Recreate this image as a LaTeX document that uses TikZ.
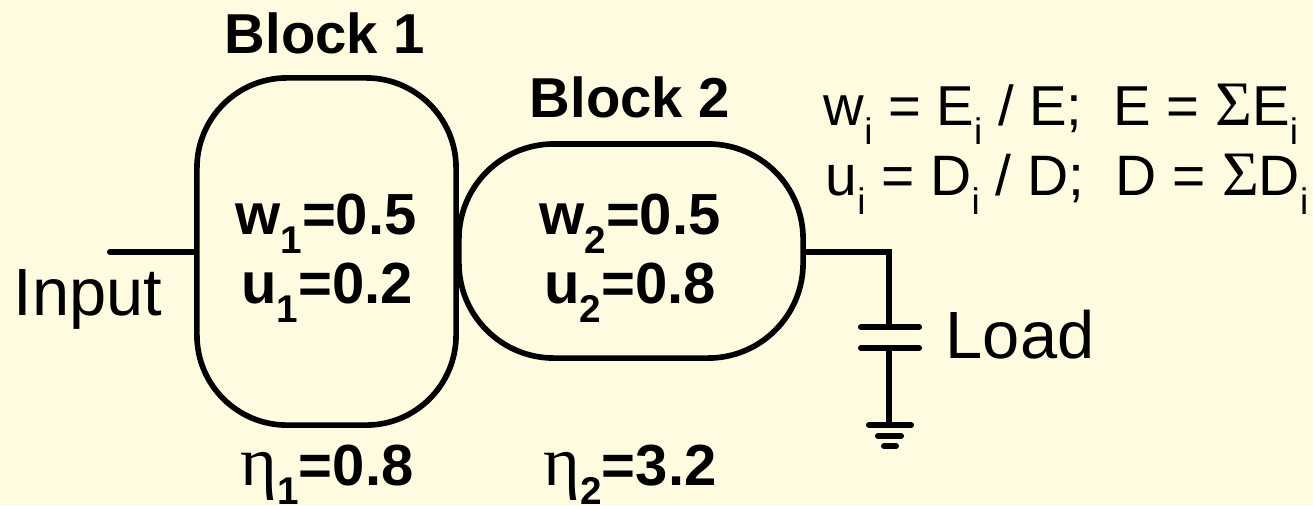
\documentclass[tikz,border=0pt]{standalone}
\usepackage{fontspec}
\setmainfont{Liberation Sans}
\newfontfamily\symfont{Liberation Serif}
\usepackage{tikz}
\usetikzlibrary{positioning}
\definecolor{paper}{HTML}{FEFBE0}
\newcommand{\lowidx}[1]{\raisebox{-5.4pt}{\fontsize{11}{12}\selectfont #1}}
\newcommand{\lowthin}[1]{\raisebox{-5.6pt}{\fontsize{10.5}{12}\selectfont #1}}
\newcommand{\etasym}{{\fontsize{20}{20}\selectfont\symfont\mdseries η}}
\newcommand{\sumsym}{{\fontsize{18}{20}\selectfont\symfont Σ}}

\begin{document}
\begin{tikzpicture}[
  x=0.01cm,y=-0.01cm,
  blk/.style={draw,line width=1.6pt,rounded corners=0.9cm,inner sep=0pt},
  wire/.style={line width=1.7pt,line cap=round},
  head/.style={anchor=base,inner sep=0pt,font=\fontsize{16}{20}\selectfont\bfseries},
  val/.style={anchor=base,inner sep=0pt,font=\fontsize{16.5}{20}\selectfont\bfseries},
  lbl/.style={anchor=base,inner sep=0pt,font=\fontsize{19}{22}\selectfont},
  eqn/.style={anchor=base west,inner sep=0pt,font=\fontsize{16}{20}\selectfont}
]
\fill[paper] (0,0) rectangle (1313,505);
\useasboundingbox (0,0) rectangle (1313,505);

% blocks
\node[blk,minimum width=2.59cm,minimum height=3.47cm] (block1) at (326.5,251.5) {};
\node[blk,minimum width=3.44cm,minimum height=2.14cm,rounded corners=0.95cm] (block2) at (631,251) {};
\node[head] (title1) at (325,53) {Block 1};
\node[head] (title2) at (630,117) {Block 2};

% values
\node[val] (w1) at (326,234) {w\lowidx{1}=0.5};
\node[val] (u1) at (327,303) {u\lowidx{1}=0.2};
\node[val] (w2) at (630,234) {w\lowidx{2}=0.5};
\node[val] (u2) at (630,303) {u\lowidx{2}=0.8};
\node[val] (eta1) at (327,485) {\etasym\lowidx{1}=0.8};
\node[val] (eta2) at (630,485) {\etasym\lowidx{2}=3.2};

% labels
\node[lbl] (input) at (88,315) {Input};
\node[lbl] (load) at (1020,358) {Load};
\node[eqn] (eqw) at (823,125) {w\lowthin{i} = E\lowthin{i} / E;\ \ E = \sumsym E\lowthin{i}};
\node[eqn,font=\fontsize{16.2}{20}\selectfont] (equ) at (825,195) {u\lowthin{i} = D\lowthin{i} / D;\ \ D = \sumsym D\lowthin{i}};

% wires
\coordinate (inEnd) at (110,252);
\coordinate (corner) at (889,252);
\coordinate (capTop) at (889,327);
\coordinate (capBot) at (889,348);
\coordinate (gnd) at (889,425);
\coordinate (gndMid) at (889,436);
\coordinate (gndLow) at (889,446);
\draw[wire] (inEnd) -- (block1.west |- inEnd);
\draw[wire] (block2.east |- corner) -- (corner) -- (capTop);
\draw[wire] (capBot) -- (gnd);
\draw[wire] ([xshift=-0.28cm]capTop) -- ([xshift=0.3cm]capTop);
\draw[wire] ([xshift=-0.28cm]capBot) -- ([xshift=0.3cm]capBot);
\draw[wire] ([xshift=-0.2cm]gnd) -- ([xshift=0.22cm]gnd);
\draw[wire] ([xshift=-0.11cm]gndMid) -- ([xshift=0.12cm]gndMid);
\draw[wire] ([xshift=-0.05cm]gndLow) -- ([xshift=0.07cm]gndLow);
\end{tikzpicture}
\end{document}
